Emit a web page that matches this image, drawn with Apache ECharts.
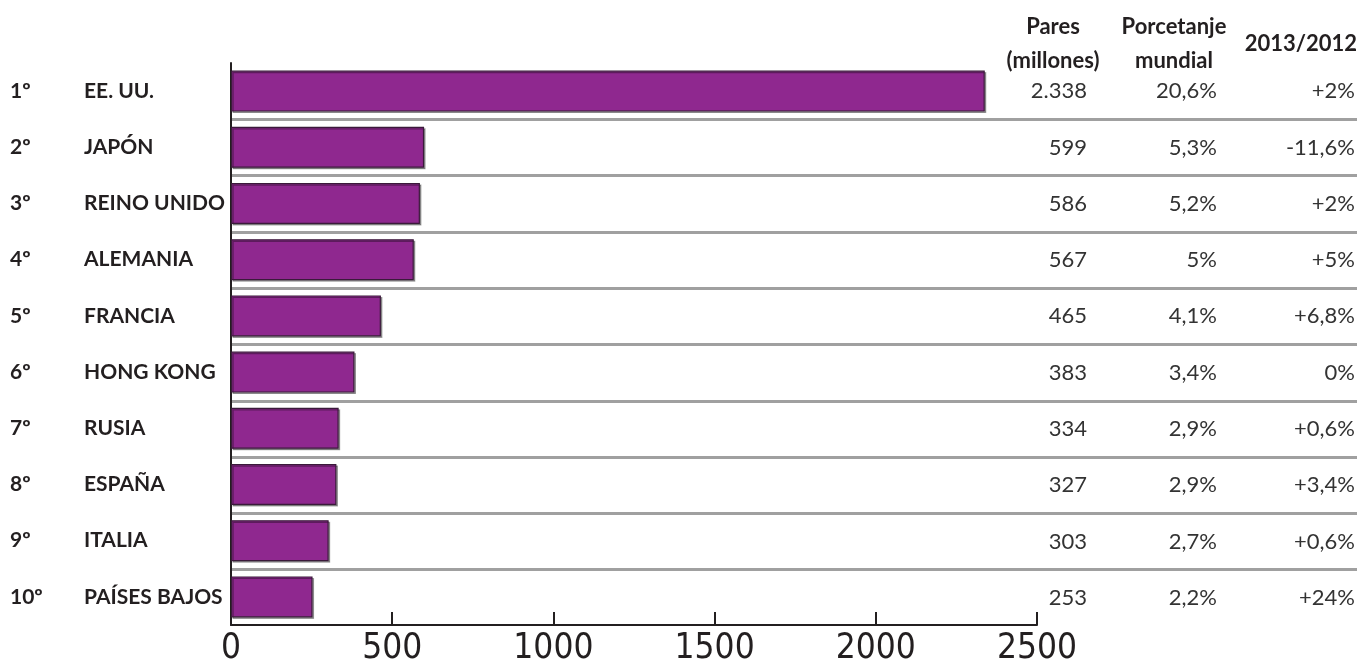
<!DOCTYPE html>
<html>
<head>
<meta charset="utf-8">
<script src="https://cdn.jsdelivr.net/npm/echarts@6/dist/echarts.min.js"></script>
<style>html,body{margin:0;padding:0;background:#fff}#c{width:1359px;height:666px}</style>
</head>
<body>
<div id="c"></div>
<script>
const ranks = ['1º','2º','3º','4º','5º','6º','7º','8º','9º','10º'];
const countries = ['EE. UU.','JAPÓN','REINO UNIDO','ALEMANIA','FRANCIA','HONG KONG','RUSIA','ESPAÑA','ITALIA','PAÍSES BAJOS'];
const pares = [2338, 599, 586, 567, 465, 383, 334, 327, 303, 253];
const paresLabels = ['2.338','599','586','567','465','383','334','327','303','253'];
const pctLabels = ['20,6%','5,3%','5,2%','5%','4,1%','3,4%','2,9%','2,9%','2,7%','2,2%'];
const changeLabels = ['+2%','-11,6%','+2%','+5%','+6,8%','0%','+0,6%','+3,4%','+0,6%','+24%'];
const xTicks = [0, 500, 1000, 1500, 2000, 2500];

const textFont = 'Lato, "Open Sans", sans-serif';
const ink = '#231f20';

const chart = echarts.init(document.getElementById('c'));
const tableAxis = (data, offset) => ({
  type: 'category', gridIndex: 1, position: 'right', offset: offset, inverse: true, data: data,
  axisLine: {show: false}, axisTick: {show: false}, splitLine: {show: false},
  axisLabel: {align: 'right', margin: 0, color: '#333', fontFamily: textFont, fontSize: 22}
});
chart.setOption({
  animation: false,
  grid: [
    {left: 231, right: 322, top: 63, bottom: 40},
    {left: 231, right: 2, top: 63, bottom: 40}
  ],
  xAxis: [
    {type: 'value', gridIndex: 0, min: xTicks[0], max: xTicks[xTicks.length-1], interval: 500,
     axisLine: {show: true, lineStyle: {color: ink, width: 2}},
     axisTick: {show: true, inside: true, length: 13, lineStyle: {color: ink, width: 2}},
     splitLine: {show: false},
     axisLabel: {color: ink, fontSize: 35, margin: 6, formatter: v => String(v),
       fontFamily: '"Liberation Sans Narrow", "DejaVu Sans Condensed", sans-serif'}},
    {type: 'value', gridIndex: 1, show: false, min: 0, max: 1}
  ],
  yAxis: [
    {type: 'category', gridIndex: 0, inverse: true, data: countries,
     axisLine: {show: true, lineStyle: {color: ink, width: 2}},
     axisTick: {show: false},
     splitLine: {show: false},
     axisLabel: {align: 'left', margin: 221,
       formatter: (v, i) => '{r|' + ranks[i] + '}{n|' + v + '}',
       rich: {
         r: {width: 74, fontFamily: textFont, fontWeight: 'bold', fontSize: 21, color: ink},
         n: {fontFamily: textFont, fontWeight: 'bold', fontSize: 21, color: ink}
       }}},
    {type: 'value', gridIndex: 1, min: 0, max: 10, interval: 1, inverse: true,
     axisLine: {show: false}, axisTick: {show: false}, axisLabel: {show: false},
     splitLine: {show: true, showMinLine: false, showMaxLine: false, lineStyle: {color: '#a0a0a0', width: 3}}},
    tableAxis(paresLabels, -270),
    tableAxis(pctLabels, -140),
    tableAxis(changeLabels, -2)
  ],
  series: [{
    type: 'bar', xAxisIndex: 0, yAxisIndex: 0, data: pares, barWidth: 41, z: 5,
    itemStyle: {color: '#8f288f', borderColor: '#3b1a3b', borderWidth: 1.2,
      shadowColor: 'rgba(0,0,0,0.35)', shadowOffsetX: 1.5, shadowOffsetY: 1.5, shadowBlur: 0}
  }],
  graphic: [
    {type: 'text', x: 1053, y: 27, style: {text: 'Pares', font: 'bold 22px ' + textFont, fill: ink, align: 'center', verticalAlign: 'middle'}},
    {type: 'text', x: 1053, y: 61, style: {text: '(millones)', font: 'bold 22px ' + textFont, fill: ink, align: 'center', verticalAlign: 'middle'}},
    {type: 'text', x: 1174, y: 27, style: {text: 'Porcetanje', font: 'bold 22px ' + textFont, fill: ink, align: 'center', verticalAlign: 'middle'}},
    {type: 'text', x: 1174, y: 61, style: {text: 'mundial', font: 'bold 22px ' + textFont, fill: ink, align: 'center', verticalAlign: 'middle'}},
    {type: 'text', x: 1357, y: 44, style: {text: '2013/2012', font: 'bold 22px ' + textFont, fill: ink, align: 'right', verticalAlign: 'middle'}}
  ]
});
</script>
</body>
</html>
